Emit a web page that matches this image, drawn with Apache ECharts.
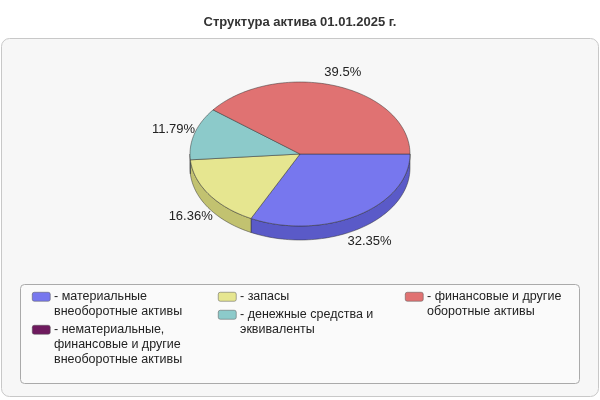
<!DOCTYPE html>
<html><head><meta charset="utf-8">
<script src="https://cdn.jsdelivr.net/npm/echarts@6/dist/echarts.min.js"></script>
<style>body{margin:0}#main{width:600px;height:400px}</style>
</head><body><div id="main"></div>
<script>
const names = ['материальные\nвнеоборотные активы', 'нематериальные,\nфинансовые и другие\nвнеоборотные активы', 'запасы', 'денежные средства и\nэквиваленты', 'финансовые и другие\nоборотные активы']
const values = [32.35, 0, 16.36, 11.79, 39.5]
const colors = ['#7777ee', '#6e1a5e', '#e6e690', '#8ccaca', '#e07272']
const sideColors = ['#5a5ac8', '#4e1042', '#c2c270', '#6ea8a8', '#b85656']

const cx = 300, cy = 154, rx = 110, ry = 72, depth = 14
const total = values.reduce((a, b) => a + b, 0)
const starts = []
let acc = 0
values.forEach(v => { starts.push(acc / total * Math.PI * 2); acc += v })

function arc(a0, a1, dy) {
  const pts = [], n = Math.max(2, Math.ceil((a1 - a0) / 0.03))
  for (let i = 0; i <= n; i++) {
    const a = a0 + (a1 - a0) * i / n
    pts.push([cx + rx * Math.cos(a), cy + ry * Math.sin(a) + dy])
  }
  return pts
}

function sideItem(params, api) {
  const i = params.dataIndex
  if (!values[i]) return
  let a0 = starts[i], a1 = starts[i] + values[i] / total * Math.PI * 2
  a0 = Math.max(a0, 0); a1 = Math.min(a1, Math.PI)
  if (a1 <= a0) return
  const top = arc(a0, a1, 0), bot = arc(a0, a1, depth).reverse()
  return { type: 'polygon', shape: { points: top.concat(bot) },
    style: { fill: sideColors[i], stroke: '#333', lineWidth: 0.5 } }
}

function topItem(params, api) {
  const i = params.dataIndex
  if (!values[i]) return
  const a0 = starts[i], a1 = starts[i] + values[i] / total * Math.PI * 2
  const pts = [[cx, cy]].concat(arc(a0, a1, 0))
  const m = (a0 + a1) / 2
  const lx = cx + rx * 1.2 * Math.cos(m)
  const ly = cy + ry * 1.2 * Math.sin(m) + (Math.sin(m) > 0 ? depth : 0)
  return { type: 'group', children: [
    { type: 'polygon', shape: { points: pts }, style: { fill: colors[i], stroke: '#333', lineWidth: 0.5 } },
    { type: 'text', x: lx, y: ly, style: { text: values[i] + '%', font: '13px "Liberation Sans"', fill: '#222', align: 'center', verticalAlign: 'middle' } }
  ] }
}

const cols = [[0, 1], [2, 3], [4]]
const colX = [32, 218, 405]
const legend = []
cols.forEach((c, ci) => {
  let y = 292
  c.forEach(i => {
    legend.push({ type: 'rect', left: colX[ci], top: y, shape: { width: 18, height: 9, r: 2 }, style: { fill: colors[i], stroke: '#555', lineWidth: 0.5 } })
    legend.push({ type: 'text', left: colX[ci] + 22, top: y - 3, style: { text: '- ' + names[i].replace(/\n/g, '\n  ').replace(/\n  /g, '\n'), font: '12.5px "Liberation Sans"', fill: '#222', lineHeight: 15 } })
    y += names[i].split('\n').length * 15 + 3
  })
})

const chart = echarts.init(document.getElementById('main'))
chart.setOption({
  animation: false,
  title: { text: 'Структура актива 01.01.2025 г.', left: 'center', top: 11, textStyle: { fontFamily: 'Liberation Sans', fontSize: 13, fontWeight: 'bold', color: '#333' } },
  graphic: [
    { type: 'rect', left: 1, top: 38, z: -10, shape: { width: 597, height: 358, r: 8 }, style: { fill: '#f7f7f7', stroke: '#c8c8c8' } },
    { type: 'rect', left: 20, top: 284, shape: { width: 559, height: 99, r: 4 }, style: { fill: '#fafafa', stroke: '#aaa' } }
  ].concat(legend),
  xAxis: { show: false }, yAxis: { show: false },
  series: [
    { type: 'custom', coordinateSystem: 'none', renderItem: sideItem, data: values, z: 2 },
    { type: 'custom', coordinateSystem: 'none', renderItem: topItem, data: values, z: 3 }
  ]
})
</script></body></html>
